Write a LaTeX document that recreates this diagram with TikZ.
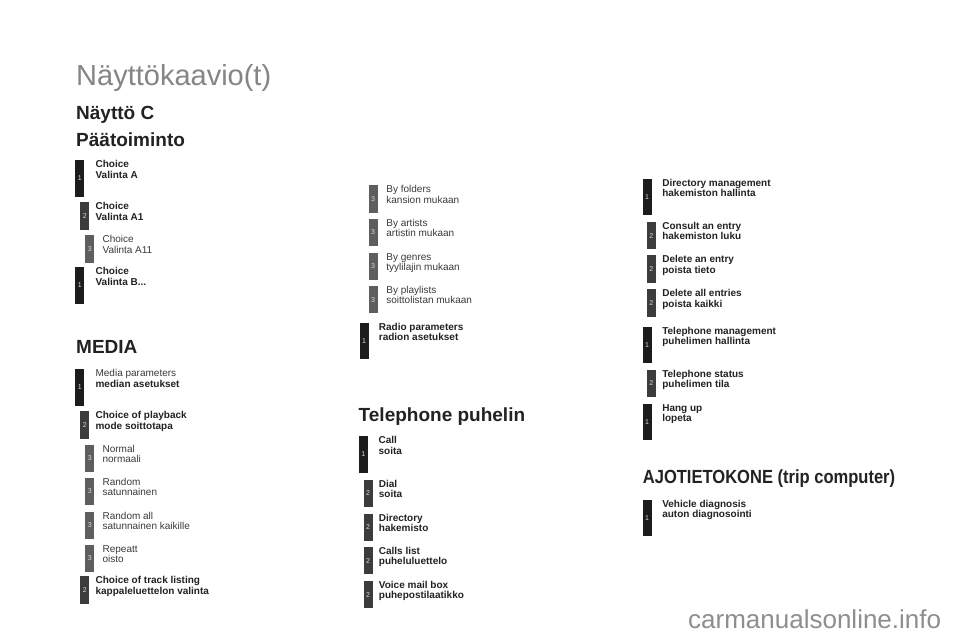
\documentclass[tikz,border=0pt]{standalone}
\usepackage{fontspec}
\setmainfont{Liberation Sans}
\newfontfamily\condfont[FakeStretch=0.87]{Liberation Sans}
\usepackage{tikz}

\definecolor{barone}{HTML}{1C1C1C}
\definecolor{bartwo}{HTML}{3C3C3C}
\definecolor{barthree}{HTML}{5E5E5E}
\definecolor{numgray}{HTML}{DADADA}
\definecolor{titlegray}{HTML}{858585}
\definecolor{inkgray}{HTML}{222222}
\definecolor{softgray}{HTML}{3A3A3A}
\definecolor{markgray}{HTML}{8E8E8E}

\newcommand{\itemfont}{\fontsize{10}{10.2}\selectfont}
\newcommand{\numfont}{\fontsize{7}{7}\selectfont}
\newcommand{\headfont}{\fontsize{19}{20}\selectfont\bfseries}

\tikzset{
  lvone/.style={fill=barone, text=numgray, font=\numfont, inner sep=0pt,
    minimum width=9pt, minimum height=36.5pt, anchor=north west},
  lvtwo/.style={lvone, fill=bartwo, minimum height=27.5pt},
  lvthree/.style={lvone, fill=barthree, minimum height=27.5pt},
  itemb/.style={anchor=base west, align=left, inner sep=0pt, text=inkgray,
    font=\itemfont\bfseries},
  itemr/.style={itemb, text=softgray, font=\itemfont},
  head/.style={anchor=base west, inner sep=0pt, text=inkgray, font=\headfont}
}

\begin{document}
\begin{tikzpicture}[x=1pt, y=-1pt]
        \useasboundingbox [fill=white] (0,0) rectangle (960,640);
        \node (title) at (76,85.5) [anchor=base west, inner sep=0pt, text=titlegray, font=\fontsize{29}{30}\selectfont] {Näyttökaavio(t)};
        \node (screen) at (76,119.3) [head] {Näyttö C};
        \node (main) at (76,146.5) [head] {Päätoiminto};
        \node (media) at (76,353) [head] {MEDIA};
        \node (phone) at (358.5,421.5) [head] {Telephone puhelin};
        \node (trip) at (642.7,483.5) [head, font=\headfont\condfont] {AJOTIETOKONE (trip computer)};
        \node (mark) at (688,628.5) [anchor=base west, inner sep=0pt, text=markgray, font=\fontsize{26}{27}\selectfont] {carmanualsonline.info};

        \node (ba) at (75,160) [lvone] {1};
        \node (ta) at ([xshift=11pt, yshift=-18pt]ba.north east) [itemb] {Choice\\Valinta A};
        \node (baa) at (80,202) [lvtwo] {2};
        \node (taa) at ([xshift=6pt, yshift=-18pt]baa.north east) [itemb] {Choice\\Valinta A1};
        \node (baaa) at (85,235) [lvthree] {3};
        \node (taaa) at ([xshift=8pt, yshift=-18pt]baaa.north east) [itemr] {Choice\\Valinta A11};
        \node (bb) at (75,267) [lvone] {1};
        \node (tb) at ([xshift=11pt, yshift=-18pt]bb.north east) [itemb] {Choice\\Valinta B...};

        \node (bmed) at (75,369) [lvone] {1};
        \node (tmed) at ([xshift=11pt, yshift=-18pt]bmed.north east) [itemr] {Media parameters\\\textbf{\color{inkgray}median asetukset}};
        \node (bplay) at (80,411) [lvtwo] {2};
        \node (tplay) at ([xshift=6pt, yshift=-18pt]bplay.north east) [itemb] {Choice of playback\\mode soittotapa};
        \node (bnorm) at (85,444.5) [lvthree] {3};
        \node (tnorm) at ([xshift=8pt, yshift=-18pt]bnorm.north east) [itemr] {Normal\\normaali};
        \node (brand) at (85,477.5) [lvthree] {3};
        \node (trand) at ([xshift=8pt, yshift=-18pt]brand.north east) [itemr] {Random\\satunnainen};
        \node (ball) at (85,511.5) [lvthree] {3};
        \node (tall) at ([xshift=8pt, yshift=-18pt]ball.north east) [itemr] {Random all\\satunnainen kaikille};
        \node (brep) at (85,544.5) [lvthree] {3};
        \node (trep) at ([xshift=8pt, yshift=-18pt]brep.north east) [itemr] {Repeatt\\oisto};
        \node (btrack) at (80,576) [lvtwo] {2};
        \node (ttrack) at ([xshift=6pt, yshift=-18pt]btrack.north east) [itemb] {Choice of track listing\\kappaleluettelon valinta};

        \node (bfold) at (368.3,185) [lvthree] {3};
        \node (tfold) at ([xshift=8.5pt, yshift=-18pt]bfold.north east) [itemr] {By folders\\kansion mukaan};
        \node (bart) at (368.3,218.5) [lvthree] {3};
        \node (tart) at ([xshift=8.5pt, yshift=-18pt]bart.north east) [itemr] {By artists\\artistin mukaan};
        \node (bgen) at (368.3,252.3) [lvthree] {3};
        \node (tgen) at ([xshift=8.5pt, yshift=-18pt]bgen.north east) [itemr] {By genres\\tyylilajin mukaan};
        \node (blist) at (368.3,285.7) [lvthree] {3};
        \node (tlist) at ([xshift=8.5pt, yshift=-18pt]blist.north east) [itemr] {By playlists\\soittolistan mukaan};
        \node (bradio) at (359.3,322.7) [lvone] {1};
        \node (tradio) at ([xshift=10pt, yshift=-18pt]bradio.north east) [itemb] {Radio parameters\\radion asetukset};

        \node (bcall) at (358.5,436) [lvone] {1};
        \node (tcall) at ([xshift=10.5pt, yshift=-18pt]bcall.north east) [itemb] {Call\\soita};
        \node (bdial) at (363.3,479.3) [lvtwo] {2};
        \node (tdial) at ([xshift=6pt, yshift=-18pt]bdial.north east) [itemb] {Dial\\soita};
        \node (bdir) at (363.3,513.3) [lvtwo] {2};
        \node (tdir) at ([xshift=6pt, yshift=-18pt]bdir.north east) [itemb] {Directory\\hakemisto};
        \node (bcalls) at (363.3,546.7) [lvtwo] {2};
        \node (tcalls) at ([xshift=6pt, yshift=-18pt]bcalls.north east) [itemb] {Calls list\\puheluluettelo};
        \node (bvoice) at (363.3,580.7) [lvtwo] {2};
        \node (tvoice) at ([xshift=6pt, yshift=-18pt]bvoice.north east) [itemb] {Voice mail box\\puhepostilaatikko};

        \node (bdman) at (642.3,178.3) [lvone] {1};
        \node (tdman) at ([xshift=10.4pt, yshift=-18pt]bdman.north east) [itemb] {Directory management\\hakemiston hallinta};
        \node (bcons) at (646.7,221.7) [lvtwo] {2};
        \node (tcons) at ([xshift=6pt, yshift=-18pt]bcons.north east) [itemb] {Consult an entry\\hakemiston luku};
        \node (bdel) at (646.7,255) [lvtwo] {2};
        \node (tdel) at ([xshift=6pt, yshift=-18pt]bdel.north east) [itemb] {Delete an entry\\poista tieto};
        \node (bdelall) at (646.7,289) [lvtwo] {2};
        \node (tdelall) at ([xshift=6pt, yshift=-18pt]bdelall.north east) [itemb] {Delete all entries\\poista kaikki};
        \node (btman) at (642.3,326.7) [lvone] {1};
        \node (ttman) at ([xshift=10.4pt, yshift=-18pt]btman.north east) [itemb] {Telephone management\\puhelimen hallinta};
        \node (bstat) at (646.7,369.5) [lvtwo] {2};
        \node (tstat) at ([xshift=6pt, yshift=-18pt]bstat.north east) [itemb] {Telephone status\\puhelimen tila};
        \node (bhang) at (642.3,403.3) [lvone] {1};
        \node (thang) at ([xshift=10.4pt, yshift=-18pt]bhang.north east) [itemb] {Hang up\\lopeta};

        \node (bveh) at (642.3,499.3) [lvone] {1};
        \node (tveh) at ([xshift=10.4pt, yshift=-18pt]bveh.north east) [itemb] {Vehicle diagnosis\\auton diagnosointi};
    \end{tikzpicture}
\end{document}
